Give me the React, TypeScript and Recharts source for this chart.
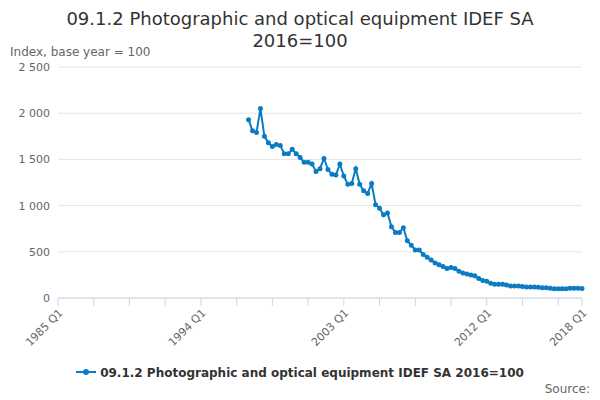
import { LineChart, Line, XAxis, YAxis, CartesianGrid } from 'recharts'

const startYear = 1985
const firstDataYear = 1997
const values = [
  1930, 1810, 1790, 2050, 1750, 1680, 1640, 1660, 1650, 1560, 1560, 1610,
  1560, 1520, 1470, 1470, 1450, 1370, 1400, 1510, 1390, 1340, 1330, 1450,
  1320, 1230, 1240, 1400, 1230, 1160, 1130, 1240, 1010, 970, 900, 920,
  770, 710, 710, 760, 620, 570, 520, 520, 470, 440, 410, 380,
  360, 340, 320, 330, 320, 290, 270, 260, 250, 240, 210, 190,
  180, 160, 150, 150, 150, 140, 130, 130, 130, 125, 120, 120,
  120, 115, 110, 110, 105, 100, 100, 100, 100, 105, 105, 105, 103,
]
const labelTicks = ['1985 Q1', '1994 Q1', '2003 Q1', '2012 Q1', '2018 Q1']
const seriesName = '09.1.2 Photographic and optical equipment IDEF SA 2016=100'

const offset = (firstDataYear - startYear) * 4
const total = offset + values.length
const data = Array.from({ length: total }, (_, i) => ({
  q: `${startYear + Math.floor(i / 4)} Q${(i % 4) + 1}`,
  v: i >= offset ? values[i - offset] : null,
}))
const ticks = data.map((d) => d.q).filter((_, i) => i % 9 === 0 || i === total - 1)

const font = '"DejaVu Sans", sans-serif'

export default function App() {
  return (
    <div style={{ position: 'absolute', left: 0, top: 0, width: 600, height: 400, background: '#fff', fontFamily: font }}>
      <div style={{ position: 'absolute', top: 8, width: 600, textAlign: 'center', fontSize: 18, color: '#333', lineHeight: '22px' }}>
        09.1.2 Photographic and optical equipment IDEF SA<br />2016=100
      </div>
      <div style={{ position: 'absolute', top: 45, left: 10, fontSize: 12, color: '#666' }}>Index, base year = 100</div>
      <LineChart width={600} height={400} data={data} margin={{ top: 67, right: 18, left: 8, bottom: 47 }}>
        <CartesianGrid vertical={false} stroke="#e6e6e6" />
        <XAxis
          dataKey="q"
          ticks={ticks}
          interval={0}
          tickFormatter={(t: string) => (labelTicks.includes(t) ? t : '')}
          angle={-45}
          textAnchor="end"
          height={55}
          tick={{ fontSize: 11, fill: '#666', fontFamily: font }}
          stroke="#ccd6eb"
          tickSize={8}
        />
        <YAxis
          domain={[0, 2500]}
          ticks={[0, 500, 1000, 1500, 2000, 2500]}
          tickFormatter={(v: number) => v.toLocaleString('en-US').replace(',', ' ')}
          width={50}
          axisLine={false}
          tickLine={false}
          tick={{ fontSize: 11, fill: '#666', fontFamily: font }}
        />
        <Line
          dataKey="v"
          stroke="#0b7cc4"
          strokeWidth={2}
          dot={{ r: 1.5, fill: '#0b7cc4', stroke: '#0b7cc4' }}
          connectNulls={false}
          isAnimationActive={false}
        />
      </LineChart>
      <div style={{ position: 'absolute', top: 366, width: 600, textAlign: 'center', fontSize: 12, fontWeight: 'bold', color: '#333' }}>
        <svg width={20} height={10} style={{ marginRight: 4 }}>
          <line x1={0} y1={5} x2={20} y2={5} stroke="#0b7cc4" strokeWidth={2} />
          <circle cx={10} cy={5} r={3} fill="#0b7cc4" />
        </svg>
        {seriesName}
      </div>
      <div style={{ position: 'absolute', top: 382, right: 10, fontSize: 12, color: '#666' }}>Source:</div>
    </div>
  )
}
